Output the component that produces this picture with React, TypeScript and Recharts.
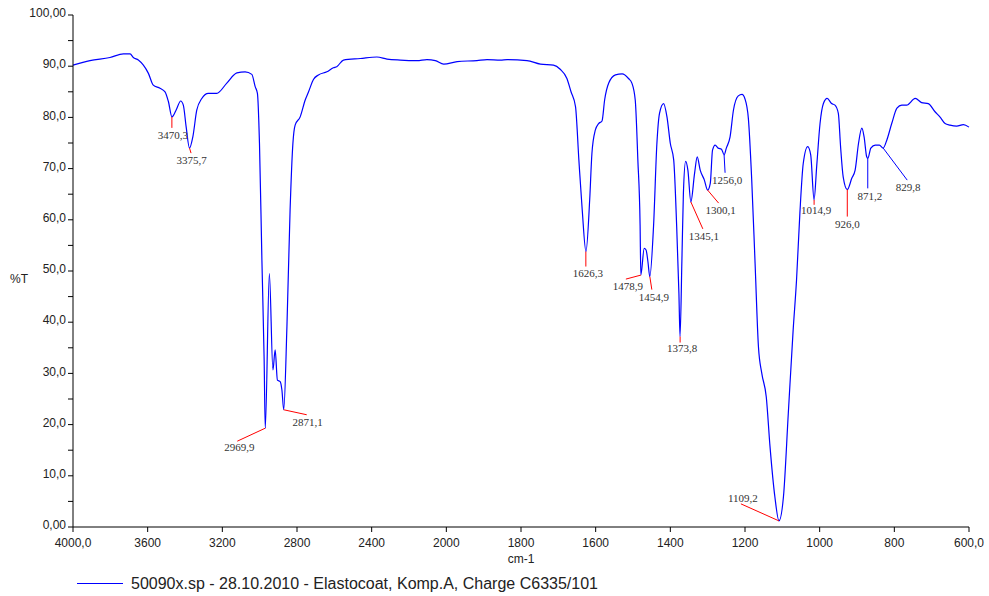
import { LineChart, Line, XAxis, YAxis, ReferenceDot } from "recharts";

// IR spectrum (wavenumber in cm-1, transmittance in %T)
const wavenumber = [
  4000, 3909, 3802, 3730, 3694, 3677, 3650, 3623, 3596, 3570, 3534, 3507, 3489, 3470, 3448, 3423, 3409, 3394,
  3376, 3358, 3337, 3310, 3275, 3230, 3176, 3122, 3078, 3042, 3024, 3012, 3001, 2988, 2976, 2970, 2948, 2929,
  2917, 2905, 2890, 2881, 2871, 2854, 2837, 2822, 2810, 2783, 2756, 2738, 2712, 2685, 2640, 2605, 2587, 2551,
  2461, 2372, 2318, 2247, 2157, 2104, 2059, 2014, 1971, 1918, 1891, 1855, 1837, 1784, 1748, 1713, 1695, 1677,
  1666, 1654, 1645, 1636, 1626, 1616, 1610, 1601, 1592, 1583, 1576, 1565, 1547, 1529, 1512, 1503, 1494, 1487,
  1481, 1479, 1470, 1465, 1460, 1455, 1445, 1436, 1429, 1418, 1409, 1400, 1391, 1383, 1377, 1374, 1369, 1365,
  1359, 1353, 1345, 1335, 1328, 1320, 1309, 1300, 1293, 1287, 1280, 1272, 1263, 1256, 1250, 1240, 1231, 1218,
  1208, 1200, 1191, 1182, 1173, 1164, 1155, 1143, 1133, 1120, 1109, 1097, 1084, 1071, 1062, 1053, 1044, 1032,
  1024, 1015, 1008, 999, 990, 980, 968, 959, 950, 944, 937, 926, 914, 905, 896, 887, 881, 874, 871, 863, 851,
  840, 830, 820, 807, 793, 780, 767, 744, 727, 709, 691, 678, 664, 651, 633, 615, 600,
];
const transmittance = [
  90.2, 91.1, 91.7, 92.4, 92.4, 91.7, 91.2, 90.2, 88.6, 86.3, 85.7, 85.0, 83.1, 80.1, 81.4, 83.2, 82.4, 78.2,
  74.0, 76.2, 81.4, 83.7, 84.7, 84.7, 86.7, 88.7, 88.9, 88.4, 86.0, 84.7, 74.9, 52.1, 32.6, 19.3, 49.5, 30.7,
  34.6, 28.7, 28.4, 26.8, 22.9, 39.1, 61.9, 74.9, 78.5, 80.1, 83.4, 85.0, 87.4, 88.3, 88.9, 89.7, 89.9, 91.2,
  91.5, 91.8, 91.4, 91.2, 91.1, 91.3, 91.1, 90.4, 90.9, 91.1, 91.3, 91.2, 91.3, 91.1, 90.4, 90.2, 89.4, 87.6,
  85.0, 82.1, 71.7, 61.9, 53.8, 63.9, 73.0, 77.5, 78.8, 79.3, 83.4, 86.7, 88.3, 88.5, 87.6, 86.7, 83.4, 71.7,
  59.0, 49.2, 54.4, 54.1, 51.8, 48.9, 58.7, 74.9, 80.8, 82.7, 80.1, 74.9, 71.7, 58.7, 45.6, 37.2, 52.1, 65.2,
  71.4, 69.7, 63.5, 69.1, 72.3, 69.7, 67.8, 65.8, 67.1, 73.6, 74.6, 74.0, 73.8, 72.7, 74.0, 76.2, 81.4, 84.2,
  84.5, 83.6, 79.8, 67.8, 51.5, 35.2, 30.0, 25.4, 15.7, 5.9, 1.2, 5.9, 22.2, 38.5, 48.2, 61.3, 71.0, 74.3,
  72.7, 63.9, 70.4, 78.8, 82.7, 83.7, 82.7, 82.4, 80.8, 74.3, 68.4, 65.9, 68.1, 69.7, 74.9, 77.9, 76.2, 72.3,
  72.0, 74.0, 74.6, 74.6, 74.0, 75.6, 78.8, 81.8, 82.4, 82.4, 83.7, 82.9, 82.7, 81.1, 80.1, 78.8, 78.5, 78.3,
  78.6, 78.1,
];

// labelled peaks
const peakWavenumbers = [3470.3, 3375.7, 2969.9, 2871.1, 1626.3, 1478.9, 1454.9, 1373.8, 1345.1, 1300.1, 1256.0, 1109.2, 1014.9, 926.0, 871.2, 829.8];
const peakTransmittance = [80.1, 74.0, 19.3, 22.9, 53.8, 49.2, 48.9, 37.2, 63.5, 65.8, 72.7, 1.2, 63.9, 65.9, 72.0, 74.0];
const peakText = ["3470,3", "3375,7", "2969,9", "2871,1", "1626,3", "1478,9", "1454,9", "1373,8", "1345,1", "1300,1", "1256,0", "1109,2", "1014,9", "926,0", "871,2", "829,8"];

// leader line end (lx, ly), text baseline (tx, ty) relative to the peak, in px
const leaders = [
  { lx: 0, ly: 11, tx: 1, ty: 22, c: "#ff0000" },
  { lx: 1.5, ly: 5, tx: 2, ty: 16, c: "#ff0000" },
  { lx: -28, ly: 13, tx: -26, ty: 23, c: "#ff0000" },
  { lx: 23, ly: 5, tx: 24, ty: 16, c: "#ff0000" },
  { lx: 0, ly: 15, tx: 2, ty: 25, c: "#ff0000" },
  { lx: -15, ly: 4, tx: -13, ty: 15, c: "#ff0000" },
  { lx: 2, ly: 13, tx: 4, ty: 24, c: "#ff0000" },
  { lx: 0, ly: 6, tx: 2, ty: 15, c: "#ff0000" },
  { lx: 12, ly: 27, tx: 13, ty: 38, c: "#ff0000" },
  { lx: 11, ly: 13, tx: 13, ty: 24, c: "#ff0000" },
  { lx: 1, ly: 18, tx: 3, ty: 29, c: "#0000ff" },
  { lx: -38, ly: -17, tx: -36, ty: -19, c: "#ff0000" },
  { lx: 0, ly: 5, tx: 2, ty: 14, c: "#ff0000" },
  { lx: 0, ly: 27, tx: 0, ty: 38, c: "#ff0000" },
  { lx: 0, ly: 30, tx: 2, ty: 42, c: "#0000ff" },
  { lx: 24, ly: 32, tx: 25, ty: 43, c: "#0000ff" },
];

const xTickWavenumbers = [4000, 3600, 3200, 2800, 2400, 2000, 1800, 1600, 1400, 1200, 1000, 800, 600];
const xTickLabels = ["4000,0", "3600", "3200", "2800", "2400", "2000", "1800", "1600", "1400", "1200", "1000", "800", "600,0"];
const yTicks = [0, 5, 10, 15, 20, 25, 30, 35, 40, 45, 50, 55, 60, 65, 70, 75, 80, 85, 90, 95, 100];

// the instrument plot uses a 2x expanded scale below 2000 cm-1
const toAxis = (w: number) => (w >= 2000 ? (4000 - w) / 2 : 1000 + (2000 - w));

const data = wavenumber.map((w, i) => ({ t: toAxis(w), T: transmittance[i] }));

const sans = "'Liberation Sans', Arial, sans-serif";
const serif = "'Liberation Serif', 'Times New Roman', serif";

const yLabel = (v: number) => {
  if (v === 100) return "100,00";
  if (v === 0) return "0,00";
  return v % 10 === 0 ? `${v},0` : "";
};

export default function App() {
  return (
    <div style={{ position: "absolute", left: 0, top: 0, width: 989, height: 596, background: "#fff" }}>
      <LineChart width={989} height={596} data={data} margin={{ top: 15, right: 20, left: 0, bottom: 0 }}>
        <XAxis
          type="number"
          dataKey="t"
          domain={[0, 2400]}
          ticks={xTickWavenumbers.map(toAxis)}
          tickFormatter={(v: number) => xTickLabels[xTickWavenumbers.map(toAxis).indexOf(v)] ?? ""}
          interval={0}
          height={69}
          stroke="#000"
          tickSize={5}
          tickMargin={6}
          tick={{ fill: "#222", fontSize: 12, fontFamily: sans }}
          label={{ value: "cm-1", position: "insideTop", offset: 27, fill: "#222", fontSize: 12, fontFamily: sans }}
        />
        <YAxis
          type="number"
          domain={[0, 100]}
          ticks={yTicks}
          tickFormatter={yLabel}
          interval={0}
          width={73}
          stroke="#000"
          tickSize={5}
          tickMargin={2}
          tick={{ fill: "#222", fontSize: 12, fontFamily: sans, dy: -2 }}
          label={{ value: "%T", position: "insideLeft", offset: 10, dy: 8, fill: "#222", fontSize: 12, fontFamily: sans }}
        />
        <Line
          type="monotone"
          dataKey="T"
          stroke="#0000ff"
          strokeWidth={1.2}
          dot={false}
          isAnimationActive={false}
        />
        {peakWavenumbers.map((w, i) => {
          const s = leaders[i];
          return (
            <ReferenceDot
              key={i}
              x={toAxis(w)}
              y={peakTransmittance[i]}
              ifOverflow="visible"
              shape={(p: any) => (
                <g>
                  <line x1={p.cx} y1={p.cy} x2={p.cx + s.lx} y2={p.cy + s.ly} stroke={s.c} strokeWidth={1} />
                  <text
                    x={p.cx + s.tx}
                    y={p.cy + s.ty}
                    textAnchor="middle"
                    fontSize={11}
                    fontFamily={serif}
                    fill="#333"
                  >
                    {peakText[i]}
                  </text>
                </g>
              )}
            />
          );
        })}
      </LineChart>
      <div style={{ position: "absolute", left: 77, top: 583, width: 46, borderTop: "1px solid #0000ff" }} />
      <div
        style={{
          position: "absolute",
          left: 131,
          top: 574,
          fontFamily: sans,
          fontSize: 16,
          lineHeight: "20px",
          color: "#222",
          whiteSpace: "nowrap",
        }}
      >
        50090x.sp - 28.10.2010 - Elastocoat, Komp.A, Charge C6335/101
      </div>
    </div>
  );
}
